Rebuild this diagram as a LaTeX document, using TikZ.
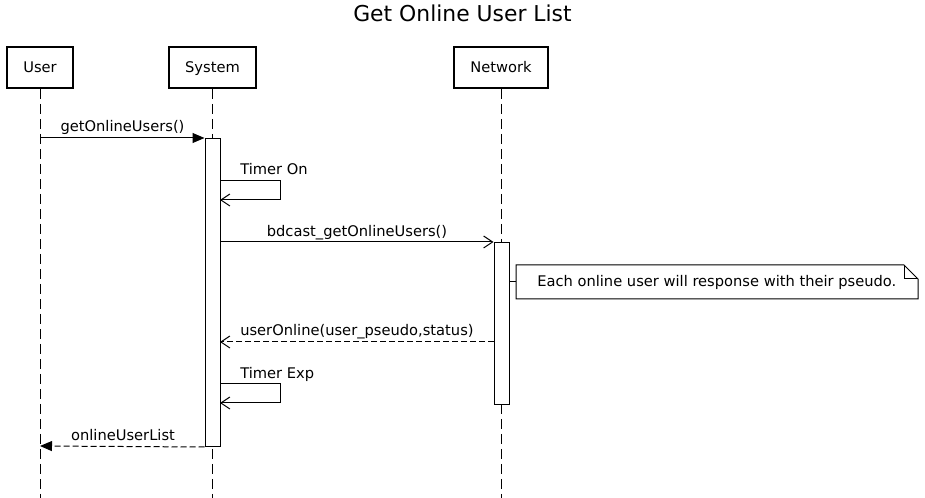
\documentclass[tikz,border=0pt]{standalone}
\usepackage{fontspec}
\setmainfont{DejaVu Sans}
\usetikzlibrary{arrows.meta}
\begin{document}
\begin{tikzpicture}[x=0.75pt,y=-0.75pt,
  headbox/.style={draw,line width=1.5pt,fill=white,minimum height=30.75pt,inner sep=0pt,text height=0.8em,text depth=0em,font=\fontsize{11}{13}\selectfont},
  lifeline/.style={line width=0.75pt,dash pattern=on 7.5pt off 3.75pt},
  actbox/.style={draw,line width=0.75pt,fill=white},
  msglabel/.style={font=\fontsize{11}{13}\selectfont,inner sep=0pt,text height=0.8em,text depth=0em},
  syncmsg/.style={line width=0.75pt,-{Triangle[length=9pt,width=7.5pt]}},
  openmsg/.style={line width=0.75pt,-{Straight Barb[length=6.75pt,width=9pt]}},
  retmsg/.style={line width=0.75pt,dash pattern=on 4.5pt off 2.25pt},
  notebox/.style={draw,line width=0.75pt,fill=white}
]
\useasboundingbox (0,0) rectangle (925,498);
% title
\node[font=\fontsize{16.4}{19}\selectfont,inner sep=0pt,text height=0.8em,text depth=0em] (title) at (462.5,16) {Get Online User List};
% heads
\node[headbox,minimum width=49.5pt] (user) at (40,67.5) {User};
\node[headbox,minimum width=65.25pt] (system) at (212.5,67.5) {System};
\node[headbox,minimum width=70.5pt] (network) at (501,67.5) {Network};
% lifeline ends
\coordinate (userend) at (40,498);
\coordinate (sysend) at (212.5,498);
\coordinate (netend) at (501,498);
\draw[lifeline] (user.south) -- (userend);
\draw[lifeline] (system.south) -- (sysend);
\draw[lifeline] (network.south) -- (netend);
% activations
\node[actbox,minimum width=11.25pt,minimum height=231pt,inner sep=0pt,anchor=north] (sysact) at (212.5,138) {};
\node[actbox,minimum width=11.25pt,minimum height=121.5pt,inner sep=0pt,anchor=north] (netact) at (501.5,242) {};
% message 1
\coordinate (m1s) at (40,138);
\draw[syncmsg] (m1s) -- (sysact.north west);
\node[msglabel] (l1) at (122.5,126) {getOnlineUsers()};
% Timer On
\coordinate (t1a) at (220,181);
\coordinate (t1b) at (280,181);
\coordinate (t1c) at (280,200);
\coordinate (t1d) at (220,200);
\draw[openmsg] (t1a) -- (t1b) -- (t1c) -- (t1d);
\node[msglabel,anchor=west] (l2) at (240,169) {Timer On};
% bdcast
\coordinate (m3s) at (220,242);
\draw[openmsg] (m3s) -- (netact.north west);
\node[msglabel] (l3) at (357,231) {bdcast\_getOnlineUsers()};
% note
\coordinate (nA) at (516,265);
\coordinate (nB) at (904,265);
\coordinate (nC) at (918,279);
\coordinate (nD) at (918,299);
\coordinate (nE) at (516,299);
\coordinate (nF) at (904,279);
\draw[notebox] (nA) -- (nB) -- (nC) -- (nD) -- (nE) -- cycle;
\draw[line width=0.75pt] (nB) -- (nF) -- (nC);
\node[msglabel,anchor=west] (note) at (537,281) {Each online user will response with their pseudo.};
\coordinate (nL) at (516,282);
\coordinate (nR) at (509,282);
\draw[line width=0.75pt] (nR) -- (nL);
% userOnline
\coordinate (m4s) at (494,342);
\coordinate (m4e) at (220,342);
\draw[retmsg,-{Straight Barb[length=6.75pt,width=9pt]}] (m4s) -- (m4e);
\node[msglabel,anchor=west] (l4) at (240,330) {userOnline(user\_pseudo,status)};
% Timer Exp
\coordinate (t2a) at (220,384);
\coordinate (t2b) at (280,384);
\coordinate (t2c) at (280,403);
\coordinate (t2d) at (220,403);
\draw[openmsg] (t2a) -- (t2b) -- (t2c) -- (t2d);
\node[msglabel,anchor=west] (l5) at (240,373) {Timer Exp};
% onlineUserList
\coordinate (m6e) at (40,446);
\draw[retmsg,-{Triangle[length=9pt,width=7.5pt]}] (sysact.south west) -- (m6e);
\node[msglabel] (l6) at (123,435) {onlineUserList};
\end{tikzpicture}
\end{document}
